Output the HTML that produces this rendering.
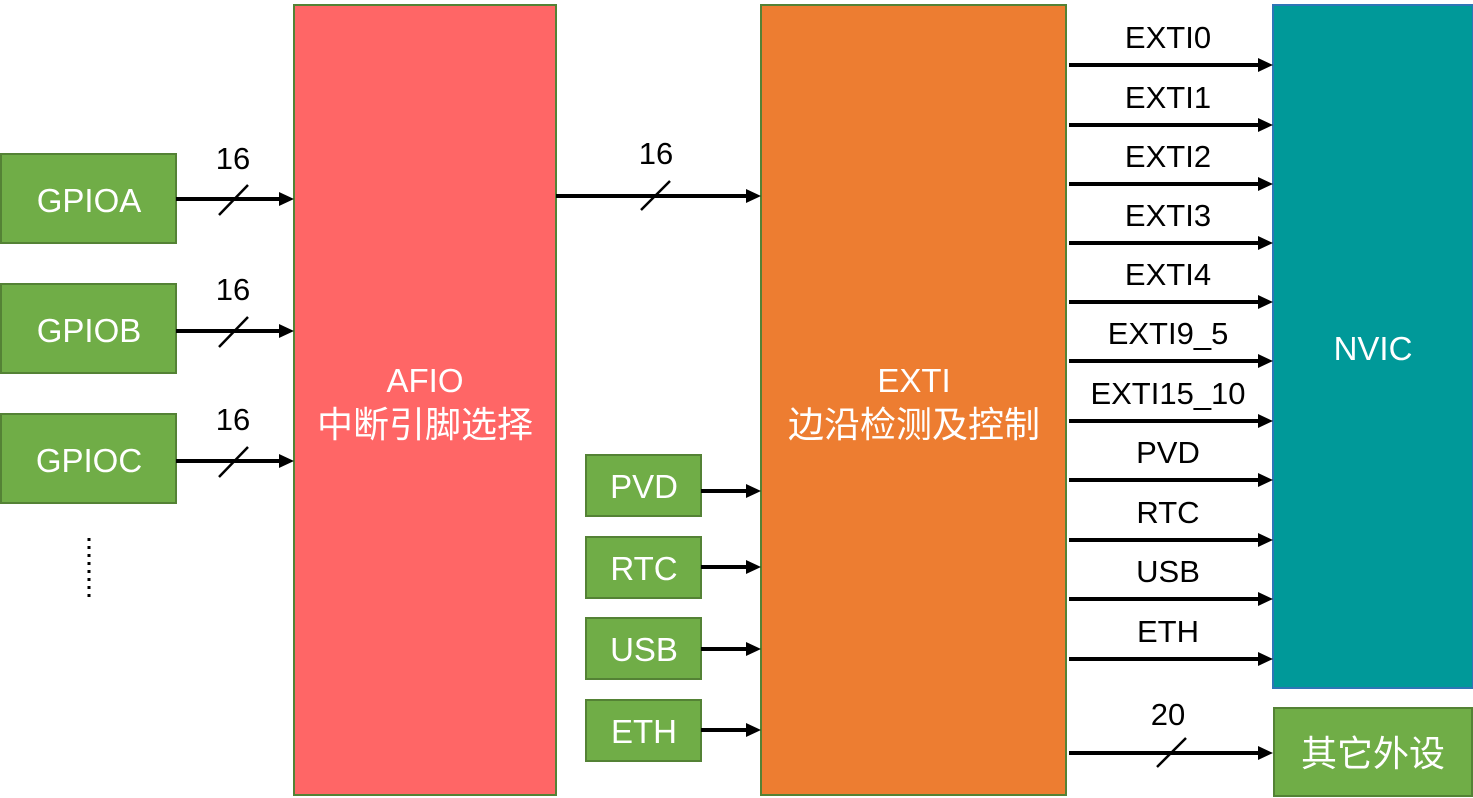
<!DOCTYPE html>
<html><head><meta charset="utf-8"><style>html,body{margin:0;padding:0;background:#fff}svg{display:block}text{font-family:"Liberation Sans","Noto Sans CJK SC",sans-serif}</style></head>
<body>
<svg width="1473" height="798" viewBox="0 0 1473 798" xmlns="http://www.w3.org/2000/svg">
<g stroke="#548235" stroke-width="2" fill="#70AD47">
<rect x="1" y="154" width="175" height="89"/>
<rect x="1" y="284" width="175" height="89"/>
<rect x="1" y="414" width="175" height="89"/>
<rect x="586" y="455" width="115" height="61"/>
<rect x="586" y="537" width="115" height="61"/>
<rect x="586" y="618" width="115" height="61"/>
<rect x="586" y="700" width="115" height="61"/>
<rect x="1274" y="708" width="198" height="88"/>
</g>
<rect x="294" y="5" width="262" height="790" fill="#FF6666" stroke="#548235" stroke-width="2"/>
<rect x="761" y="5" width="305" height="790" fill="#ED7D31" stroke="#548235" stroke-width="2"/>
<rect x="1273" y="5" width="200" height="683" fill="#009999" stroke="#2E75B6" stroke-width="2"/>
<g fill="#fff" font-size="33" text-anchor="middle">
<text x="89" y="212">GPIOA</text>
<text x="89" y="342">GPIOB</text>
<text x="89" y="472">GPIOC</text>
<text x="644" y="498">PVD</text>
<text x="644" y="580">RTC</text>
<text x="644" y="661">USB</text>
<text x="644" y="743">ETH</text>
<text x="425" y="392">AFIO</text>
<text x="425" y="437" font-size="36">中断引脚选择</text>
<text x="914" y="392">EXTI</text>
<text x="914" y="437" font-size="36">边沿检测及控制</text>
<text x="1373" y="360">NVIC</text>
<text x="1373" y="766" font-size="36">其它外设</text>
</g>
<g stroke="#000" stroke-width="4">
<line x1="176" y1="199" x2="282" y2="199"/>
<line x1="176" y1="331" x2="282" y2="331"/>
<line x1="176" y1="461" x2="282" y2="461"/>
<line x1="556" y1="196" x2="749" y2="196"/>
<line x1="701" y1="491" x2="749" y2="491"/>
<line x1="701" y1="567" x2="749" y2="567"/>
<line x1="701" y1="649" x2="749" y2="649"/>
<line x1="701" y1="730" x2="749" y2="730"/>
<line x1="1069" y1="65" x2="1261" y2="65"/>
<line x1="1069" y1="125" x2="1261" y2="125"/>
<line x1="1069" y1="184" x2="1261" y2="184"/>
<line x1="1069" y1="243" x2="1261" y2="243"/>
<line x1="1069" y1="302" x2="1261" y2="302"/>
<line x1="1069" y1="361" x2="1261" y2="361"/>
<line x1="1069" y1="421" x2="1261" y2="421"/>
<line x1="1069" y1="480" x2="1261" y2="480"/>
<line x1="1069" y1="540" x2="1261" y2="540"/>
<line x1="1069" y1="599" x2="1261" y2="599"/>
<line x1="1069" y1="659" x2="1261" y2="659"/>
<line x1="1069" y1="753" x2="1261" y2="753"/>
</g>
<g fill="#000">
<path d="M279,192 L294,199 L279,206Z"/>
<path d="M279,324 L294,331 L279,338Z"/>
<path d="M279,454 L294,461 L279,468Z"/>
<path d="M746,189 L761,196 L746,203Z"/>
<path d="M746,484 L761,491 L746,498Z"/>
<path d="M746,560 L761,567 L746,574Z"/>
<path d="M746,642 L761,649 L746,656Z"/>
<path d="M746,723 L761,730 L746,737Z"/>
<path d="M1258,58 L1273,65 L1258,72Z"/>
<path d="M1258,118 L1273,125 L1258,132Z"/>
<path d="M1258,177 L1273,184 L1258,191Z"/>
<path d="M1258,236 L1273,243 L1258,250Z"/>
<path d="M1258,295 L1273,302 L1258,309Z"/>
<path d="M1258,354 L1273,361 L1258,368Z"/>
<path d="M1258,414 L1273,421 L1258,428Z"/>
<path d="M1258,473 L1273,480 L1258,487Z"/>
<path d="M1258,533 L1273,540 L1258,547Z"/>
<path d="M1258,592 L1273,599 L1258,606Z"/>
<path d="M1258,652 L1273,659 L1258,666Z"/>
<path d="M1258,746 L1273,753 L1258,760Z"/>
</g>
<g stroke="#000" stroke-width="2.5">
<line x1="219" y1="215" x2="248" y2="185"/>
<line x1="219" y1="347" x2="248" y2="317"/>
<line x1="219" y1="477" x2="248" y2="447"/>
<line x1="641" y1="210" x2="670" y2="181"/>
<line x1="1157" y1="767" x2="1186" y2="738"/>
</g>
<g stroke="#000" stroke-width="3" stroke-dasharray="3,5"><line x1="89" y1="538" x2="89" y2="602"/></g>
<g fill="#000" font-size="31" text-anchor="middle">
<text x="233" y="169">16</text>
<text x="233" y="300">16</text>
<text x="233" y="430">16</text>
<text x="656" y="164">16</text>
<text x="1168" y="725">20</text>
<text x="1168" y="48">EXTI0</text>
<text x="1168" y="108">EXTI1</text>
<text x="1168" y="167">EXTI2</text>
<text x="1168" y="226">EXTI3</text>
<text x="1168" y="285">EXTI4</text>
<text x="1168" y="344">EXTI9_5</text>
<text x="1168" y="404">EXTI15_10</text>
<text x="1168" y="463">PVD</text>
<text x="1168" y="523">RTC</text>
<text x="1168" y="582">USB</text>
<text x="1168" y="642">ETH</text>
</g>
</svg>
</body></html>
